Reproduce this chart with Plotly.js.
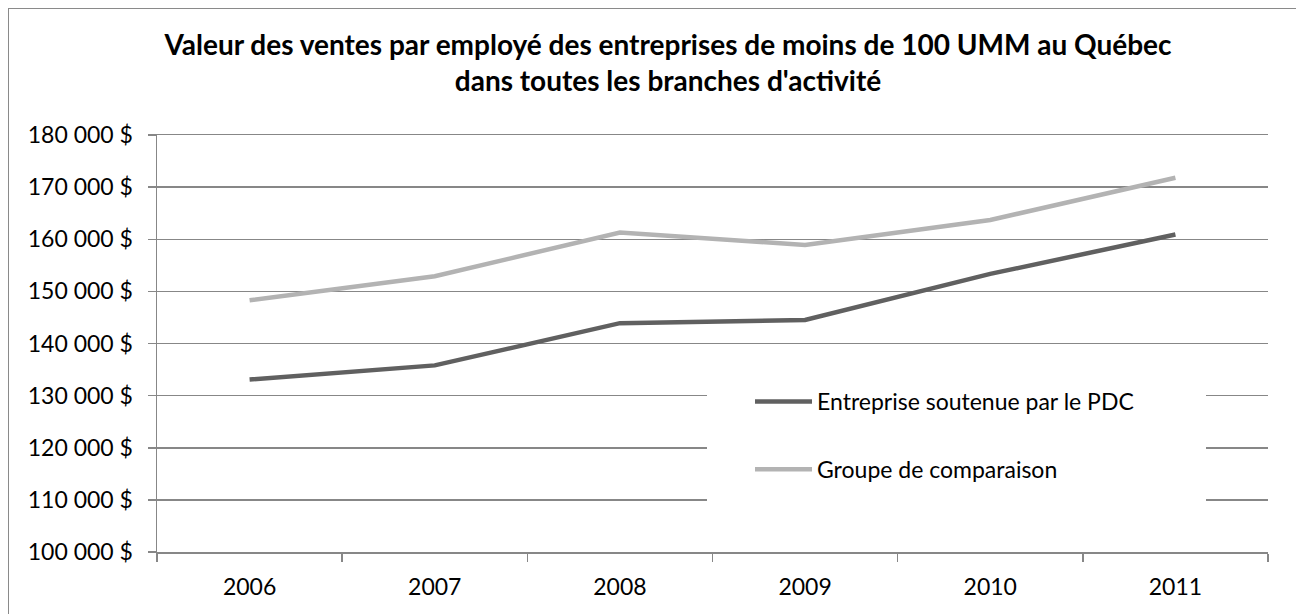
<!DOCTYPE html>
<html>
<head>
<meta charset="utf-8">
<script src="https://cdn.plot.ly/plotly-3.0.1.min.js"></script>
<style>
  html, body { margin: 0; padding: 0; background: #fff; overflow: hidden; }
  #wrap { position: relative; width: 1296px; height: 614px; }
  #chart { width: 1296px; height: 614px; }
  #frame { position: absolute; left: 8px; top: 8px; width: 1400px; height: 700px;
           border: 1.5px solid #8a8a8a; pointer-events: none; }
</style>
</head>
<body>
<div id="wrap"><div id="chart"></div><div id="frame"></div></div>
<script>
const years = ['2006', '2007', '2008', '2009', '2010', '2011'];
const seriesNames = ['Entreprise soutenue par le PDC', 'Groupe de comparaison'];
const pdcValues = [133100, 135800, 143900, 144500, 153350, 160900];
const comparisonValues = [148300, 152900, 161300, 158900, 163700, 171800];
const yTickValues = [100000, 110000, 120000, 130000, 140000, 150000, 160000, 170000, 180000];
const yTickLabels = ['100 000 $', '110 000 $', '120 000 $', '130 000 $', '140 000 $',
                     '150 000 $', '160 000 $', '170 000 $', '180 000 $'];
const titleText = "Valeur des ventes par employé des entreprises de moins de 100 UMM au Québec<br>dans toutes les branches d'activité";

const FONT = 'Lato, "Open Sans", "DejaVu Sans", sans-serif';
const AXIS = '#878787';

// plot area in pixels (for placing the legend box)
const L = 157, R = 28, T = 135, B = 62, W = 1296, H = 614;
const pw = W - L - R, ph = H - T - B;
const px = v => (v - L) / pw;
const py = v => (H - B - v) / ph;

const traces = [
  { x: years, y: pdcValues, name: seriesNames[0], type: 'scatter', mode: 'lines',
    legendgroup: 'a', line: { color: '#606060', width: 4.5 } },
  { x: years, y: comparisonValues, name: seriesNames[1], type: 'scatter', mode: 'lines',
    legendgroup: 'b', line: { color: '#b3b3b3', width: 4.5 } }
];

const layout = {
  width: W, height: H,
  margin: { l: L, r: R, t: T, b: B },
  paper_bgcolor: '#fff', plot_bgcolor: '#fff',
  font: { family: FONT, size: 23, color: '#000' },
  title: { text: titleText, font: { family: FONT, size: 28, color: '#000', weight: 'bold' },
           x: 668 / W, xref: 'container', xanchor: 'center', y: 1 - 55 / H, yref: 'container', yanchor: 'middle' },
  showlegend: true,
  legend: {
    x: px(750), xanchor: 'left', y: py(380), yanchor: 'top',
    bgcolor: 'rgba(0,0,0,0)', borderwidth: 0, font: { family: FONT, size: 23, color: '#000' },
    itemwidth: 57, tracegroupgap: 35, traceorder: 'grouped'
  },
  shapes: [
    { type: 'rect', xref: 'paper', yref: 'paper', layer: 'above',
      x0: px(707), x1: px(1206), y0: py(360), y1: py(525),
      fillcolor: '#ffffff', opacity: 1, line: { width: 0 } }
  ],
  xaxis: {
    type: 'category', categoryorder: 'array', categoryarray: years,
    range: [-0.5, 5.5], showgrid: false, zeroline: false,
    showline: true, mirror: true, linecolor: AXIS, linewidth: 1.5,
    ticks: 'outside', tickson: 'boundaries', ticklen: 8, tickcolor: AXIS, tickwidth: 1.5,
    tickfont: { family: FONT, size: 23, color: '#000' }, ticklabelstandoff: 14
  },
  yaxis: {
    range: [100000, 180000], tickmode: 'array', tickvals: yTickValues, ticktext: yTickLabels,
    showgrid: true, gridcolor: AXIS, gridwidth: 1.5, zeroline: false,
    showline: true, linecolor: AXIS, linewidth: 1.5,
    ticks: 'outside', ticklen: 8, tickcolor: AXIS, tickwidth: 1.5,
    tickfont: { family: FONT, size: 23, color: '#000' }, ticklabelstandoff: 10
  }
};

Plotly.newPlot('chart', traces, layout, { staticPlot: true, displayModeBar: false });
</script>
</body>
</html>
